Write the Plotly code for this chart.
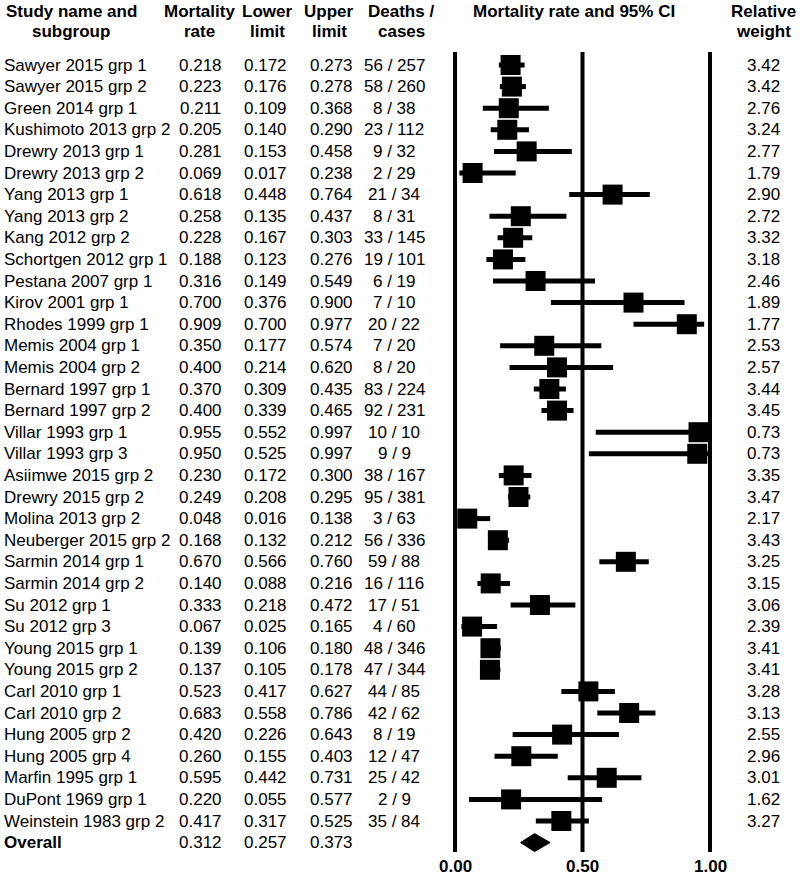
import plotly.graph_objects as go

studies = ["Sawyer 2015 grp 1", "Sawyer 2015 grp 2", "Green 2014 grp 1", "Kushimoto 2013 grp 2",
           "Drewry 2013 grp 1", "Drewry 2013 grp 2", "Yang 2013 grp 1", "Yang 2013 grp 2",
           "Kang 2012 grp 2", "Schortgen 2012 grp 1", "Pestana 2007 grp 1", "Kirov 2001 grp 1",
           "Rhodes 1999 grp 1", "Memis 2004 grp 1", "Memis 2004 grp 2", "Bernard 1997 grp 1",
           "Bernard 1997 grp 2", "Villar 1993 grp 1", "Villar 1993 grp 3", "Asiimwe 2015 grp 2",
           "Drewry 2015 grp 2", "Molina 2013 grp 2", "Neuberger 2015 grp 2", "Sarmin 2014 grp 1",
           "Sarmin 2014 grp 2", "Su 2012 grp 1", "Su 2012 grp 3", "Young 2015 grp 1",
           "Young 2015 grp 2", "Carl 2010 grp 1", "Carl 2010 grp 2", "Hung 2005 grp 2",
           "Hung 2005 grp 4", "Marfin 1995 grp 1", "DuPont 1969 grp 1", "Weinstein 1983 grp 2"]
rate = [0.218, 0.223, 0.211, 0.205, 0.281, 0.069, 0.618, 0.258, 0.228, 0.188, 0.316, 0.700,
        0.909, 0.350, 0.400, 0.370, 0.400, 0.955, 0.950, 0.230, 0.249, 0.048, 0.168, 0.670,
        0.140, 0.333, 0.067, 0.139, 0.137, 0.523, 0.683, 0.420, 0.260, 0.595, 0.220, 0.417]
lower = [0.172, 0.176, 0.109, 0.140, 0.153, 0.017, 0.448, 0.135, 0.167, 0.123, 0.149, 0.376,
         0.700, 0.177, 0.214, 0.309, 0.339, 0.552, 0.525, 0.172, 0.208, 0.016, 0.132, 0.566,
         0.088, 0.218, 0.025, 0.106, 0.105, 0.417, 0.558, 0.226, 0.155, 0.442, 0.055, 0.317]
upper = [0.273, 0.278, 0.368, 0.290, 0.458, 0.238, 0.764, 0.437, 0.303, 0.276, 0.549, 0.900,
         0.977, 0.574, 0.620, 0.435, 0.465, 0.997, 0.997, 0.300, 0.295, 0.138, 0.212, 0.760,
         0.216, 0.472, 0.165, 0.180, 0.178, 0.627, 0.786, 0.643, 0.403, 0.731, 0.577, 0.525]
deaths_cases = ["56 / 257", "58 / 260", "8 / 38", "23 / 112", "9 / 32", "2 / 29", "21 / 34", "8 / 31",
                "33 / 145", "19 / 101", "6 / 19", "7 / 10", "20 / 22", "7 / 20", "8 / 20", "83 / 224",
                "92 / 231", "10 / 10", "9 / 9", "38 / 167", "95 / 381", "3 / 63", "56 / 336", "59 / 88",
                "16 / 116", "17 / 51", "4 / 60", "48 / 346", "47 / 344", "44 / 85", "42 / 62", "8 / 19",
                "12 / 47", "25 / 42", "2 / 9", "35 / 84"]
weight = [3.42, 3.42, 2.76, 3.24, 2.77, 1.79, 2.90, 2.72, 3.32, 3.18, 2.46, 1.89, 1.77, 2.53, 2.57,
          3.44, 3.45, 0.73, 0.73, 3.35, 3.47, 2.17, 3.43, 3.25, 3.15, 3.06, 2.39, 3.41, 3.41, 3.28,
          3.13, 2.55, 2.96, 3.01, 1.62, 3.27]
overall_label = "Overall"
overall = [0.312, 0.257, 0.373]   # rate, lower, upper
tick_vals = [0.0, 0.5, 1.0]
tick_text = ["0.00", "0.50", "1.00"]

W, H = 800, 877
X0, XU = 455.0, 255.0      # pixel of 0 and pixels per unit
Y0, PITCH = 65.0, 21.6     # pixel of first row and row pitch
FONT = "Liberation Sans, Arial, sans-serif"
FS = 17

def ypx(p):  # pixel -> row units
    return (p - Y0) / PITCH

n = len(studies)
rows = list(range(n))
ov_row = n

fig = go.Figure()

# CI lines
cx, cy = [], []
for i in rows:
    cx += [lower[i], upper[i], None]
    cy += [i, i, None]
fig.add_trace(go.Scatter(x=cx, y=cy, mode="lines", line=dict(color="black", width=5),
                         hoverinfo="skip", showlegend=False))
# squares
fig.add_trace(go.Scatter(x=rate, y=rows, mode="markers",
                         marker=dict(symbol="square", size=20, color="black", line=dict(width=0)),
                         showlegend=False))
# diamond
hh = 9.0 / PITCH
fig.add_trace(go.Scatter(x=[overall[1], overall[0], overall[2], overall[0], overall[1]],
                         y=[ov_row, ov_row - hh, ov_row, ov_row + hh, ov_row],
                         mode="lines", fill="toself", fillcolor="black",
                         line=dict(color="black", width=1), showlegend=False, hoverinfo="skip"))

# vertical reference lines
for v in tick_vals:
    fig.add_shape(type="line", x0=v, x1=v, y0=ypx(52), y1=ypx(852), xref="x", yref="y",
                  line=dict(color="black", width=4), layer="below")

ann = []
def A(text, xp, y, xanchor="center", bold=False, yref="y"):
    ann.append(dict(text=f"<b>{text}</b>" if bold else text, x=xp / W, xref="paper",
                    y=y, yref=yref, xanchor=xanchor, yanchor="middle", showarrow=False,
                    font=dict(family=FONT, size=FS, color="black")))

for i in rows:
    A(studies[i], 2, i, xanchor="left")
    A(f"{rate[i]:.3f}", 200, i)
    A(f"{lower[i]:.3f}", 265, i)
    A(f"{upper[i]:.3f}", 331, i)
    A(deaths_cases[i], 394, i)
    A(f"{weight[i]:.2f}", 763, i)
A(overall_label, 2, ov_row, xanchor="left", bold=True)
A(f"{overall[0]:.3f}", 200, ov_row)
A(f"{overall[1]:.3f}", 265, ov_row)
A(f"{overall[2]:.3f}", 331, ov_row)

# headers
hdr = [("Study name and", "subgroup", 71), ("Mortality", "rate", 199), ("Lower", "limit", 267),
       ("Upper", "limit", 329), ("Deaths /", "cases", 401), ("Mortality rate and 95% CI", None, 574),
       ("Relative", "weight", 763)]
for l1, l2, xc in hdr:
    A(l1, xc, ypx(11), bold=True)
    if l2:
        A(l2, xc, ypx(31), bold=True)

# tick labels
for v, t in zip(tick_vals, tick_text):
    ann.append(dict(text=f"<b>{t}</b>", x=v, xref="x", y=ypx(866), yref="y",
                    xanchor="center", yanchor="middle", showarrow=False,
                    font=dict(family=FONT, size=FS, color="black")))

fig.update_layout(
    width=W, height=H, margin=dict(l=0, r=0, t=0, b=0),
    plot_bgcolor="white", paper_bgcolor="white",
    xaxis=dict(range=[-X0 / XU, (W - X0) / XU], visible=False, domain=[0, 1]),
    yaxis=dict(range=[ypx(H), ypx(0)], visible=False, domain=[0, 1]),
    annotations=ann, showlegend=False,
)
fig.write_html("out.html", config={"displayModeBar": False, "staticPlot": True},
               post_script="document.body.style.margin='0';document.body.style.overflow='hidden';")
